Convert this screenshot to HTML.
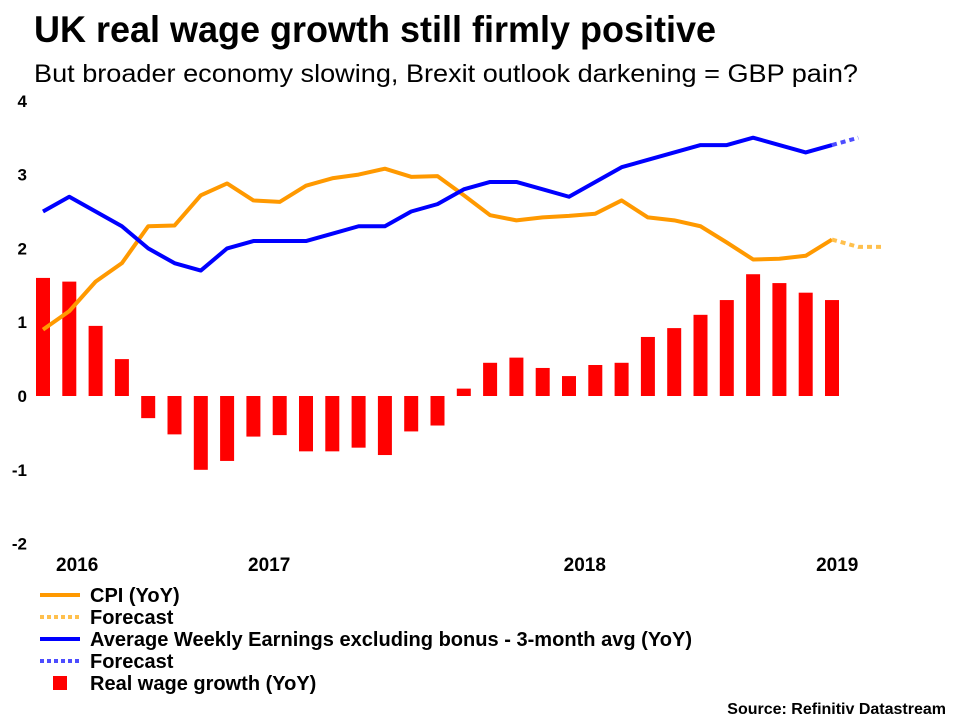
<!DOCTYPE html>
<html><head><meta charset="utf-8"><style>
body{margin:0;background:#fff;font-family:"Liberation Sans",Arial,sans-serif;}
svg text{font-family:"Liberation Sans",Arial,sans-serif;}
</style></head><body>
<svg id="c" width="960" height="720" viewBox="0 0 960 720" xmlns="http://www.w3.org/2000/svg">
<text x="34" y="42" font-size="37" font-weight="bold" fill="#000" textLength="682" lengthAdjust="spacingAndGlyphs">UK real wage growth still firmly positive</text>
<text x="34" y="82" font-size="25" fill="#000" textLength="824" lengthAdjust="spacingAndGlyphs">But broader economy slowing, Brexit outlook darkening = GBP pain?</text>
<g id="yaxis"></g>
<g id="bars"></g>
<g id="lines"></g>
<g id="xaxis"></g>
<g font-size="20" font-weight="bold">
<g><line x1="40" y1="595" x2="80" y2="595" stroke="#FF9900" stroke-width="4"/><text x="90" y="602">CPI (YoY)</text></g>
<g><line x1="40" y1="617" x2="80" y2="617" stroke="#FFC04D" stroke-width="4" stroke-dasharray="4,3"/><text x="90" y="624">Forecast</text></g>
<g><line x1="40" y1="639" x2="80" y2="639" stroke="#0000FF" stroke-width="4"/><text x="90" y="646" textLength="602" lengthAdjust="spacingAndGlyphs">Average Weekly Earnings excluding bonus - 3-month avg (YoY)</text></g>
<g><line x1="40" y1="661" x2="80" y2="661" stroke="#4D4DFF" stroke-width="4" stroke-dasharray="4,3"/><text x="90" y="668">Forecast</text></g>
<g><rect x="53" y="676" width="14" height="14" fill="#FF0000"/><text x="90" y="690">Real wage growth (YoY)</text></g>
</g>
<text x="946" y="714" font-size="16" font-weight="bold" text-anchor="end">Source: Refinitiv Datastream</text>
</svg>
<script>
const realWage=[1.6,1.55,0.95,0.5,-0.3,-0.52,-1.0,-0.88,-0.55,-0.53,-0.75,-0.75,-0.7,-0.8,-0.48,-0.4,0.1,0.45,0.52,0.38,0.27,0.42,0.45,0.8,0.92,1.1,1.3,1.65,1.53,1.4,1.3];
const cpi=[0.9,1.15,1.55,1.8,2.3,2.31,2.72,2.88,2.65,2.63,2.85,2.95,3.0,3.08,2.97,2.98,2.72,2.45,2.38,2.42,2.44,2.47,2.65,2.42,2.38,2.3,2.08,1.85,1.86,1.9,2.12];
const cpiForecast=[2.12,2.02,2.02];
const awe=[2.5,2.7,2.5,2.3,2.0,1.8,1.7,2.0,2.1,2.1,2.1,2.2,2.3,2.3,2.5,2.6,2.8,2.9,2.9,2.8,2.7,2.9,3.1,3.2,3.3,3.4,3.4,3.5,3.4,3.3,3.4];
const aweForecast=[3.4,3.5];
const yTicks=[4,3,2,1,0,-1,-2];
const yearLabels=["2016","2017","2018","2019"];
const yearIdx=[1.3,8.6,20.6,30.2];
const NS="http://www.w3.org/2000/svg";
const x=i=>43+i*26.3;
const y=v=>396-v*73.8;
function mk(t,a,p){const e=document.createElementNS(NS,t);for(const k in a)e.setAttribute(k,a[k]);p.appendChild(e);return e;}
const ya=document.getElementById('yaxis');
yTicks.forEach(t=>{const e=mk('text',{x:27,y:y(t)+6,'font-size':17,'font-weight':'bold','text-anchor':'end'},ya);e.textContent=t;

});
const b=document.getElementById('bars');
realWage.forEach((v,i)=>{const r=mk('rect',{x:x(i)-7,y:Math.min(y(v),y(0)),width:14,height:Math.abs(y(v)-y(0)),fill:'#FF0000'},b);

});
const L=document.getElementById('lines');
function line(arr,off,col,dash,name){const p=mk('polyline',{points:arr.map((v,i)=>x(i+off)+','+y(v)).join(' '),fill:'none',stroke:col,'stroke-width':4,'stroke-linejoin':'round'},L);
if(dash)p.setAttribute('stroke-dasharray',dash);

}
line(cpi,0,'#FF9900',null,'cpi-line');
line(cpiForecast,cpi.length-1,'#FFC04D','5,4','cpi-forecast-line');
line(awe,0,'#0000FF',null,'awe-line');
line(aweForecast,awe.length-1,'#4D4DFF','5,4','awe-forecast-line');
const xa=document.getElementById('xaxis');
yearLabels.forEach((s,i)=>{const e=mk('text',{x:x(yearIdx[i]),y:571,'font-size':19,'font-weight':'bold','text-anchor':'middle'},xa);e.textContent=s;

});
</script>
</body></html>
